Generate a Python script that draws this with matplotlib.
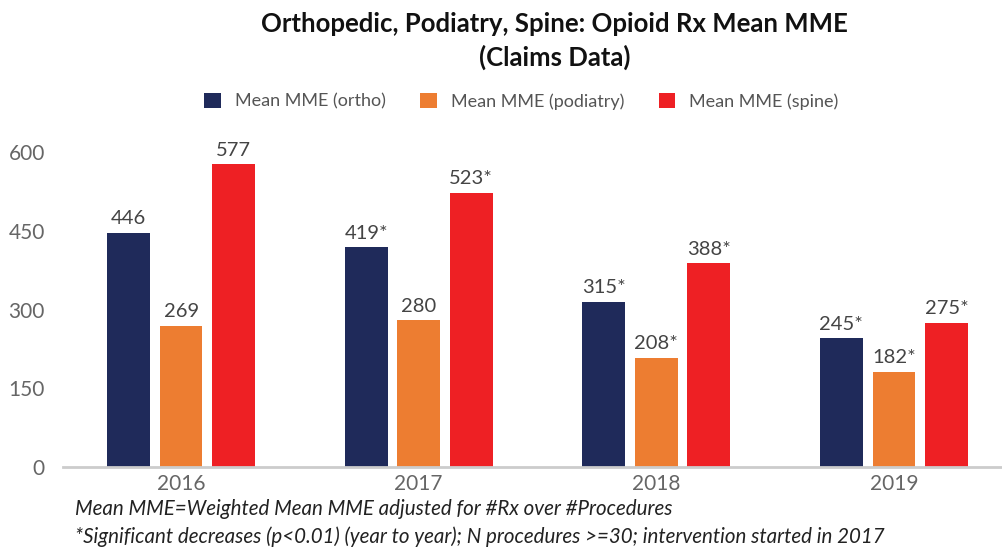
import numpy as np
import matplotlib.pyplot as plt

years = ['2016', '2017', '2018', '2019']
ortho = [446, 419, 315, 245]
podiatry = [269, 280, 208, 182]
spine = [577, 523, 388, 275]
ortho_labels = ['446', '419*', '315*', '245*']
podiatry_labels = ['269', '280', '208*', '182*']
spine_labels = ['577', '523*', '388*', '275*']

plt.rcParams['font.family'] = ['Lato', 'DejaVu Sans']

fig = plt.figure(figsize=(10.03, 5.48), dpi=100)
ax = fig.add_axes([0.0628, 0.1478, 0.9372, 0.6223])

x = np.arange(len(years))
w = 0.18
step = 0.221
series = [
    (ortho, ortho_labels, '#1f2a5a', 'Mean MME (ortho)'),
    (podiatry, podiatry_labels, '#ed7d31', 'Mean MME (podiatry)'),
    (spine, spine_labels, '#ee2024', 'Mean MME (spine)'),
]
for i, (vals, labs, col, name) in enumerate(series):
    bars = ax.bar(x + (i - 1) * step, vals, w, color=col, label=name)
    ax.bar_label(bars, labels=labs, padding=4, fontsize=14.5, color='#444444')

ax.set_xlim(-0.497, 3.459)
ax.set_ylim(0, 650)
ax.set_yticks([0, 150, 300, 450, 600])
ax.set_xticks(x)
ax.set_xticklabels(years)
ax.tick_params(axis='both', length=0, labelsize=15, labelcolor='#666666')
ax.tick_params(axis='y', pad=13)
ax.tick_params(axis='x', pad=5)
for s in ['top', 'right', 'left']:
    ax.spines[s].set_visible(False)
ax.spines['bottom'].set_color('#cccccc')
ax.spines['bottom'].set_linewidth(2)

fig.text(0.553, 0.978, 'Orthopedic, Podiatry, Spine: Opioid Rx Mean MME\n(Claims Data)',
         ha='center', va='top', fontsize=18.5, fontweight='bold', color='#111111',
         linespacing=1.4)
fig.legend(loc='center', bbox_to_anchor=(0.52, 0.815), ncol=3, frameon=False,
           fontsize=13, labelcolor='#555555', handlelength=0.9, handleheight=0.9,
           columnspacing=1.9, handletextpad=0.8)

fig.text(0.075, 0.072, 'Mean MME=Weighted Mean MME adjusted for #Rx over #Procedures',
         fontsize=14.8, style='italic', color='#222222', va='center')
fig.text(0.075, 0.020, '*Significant decreases (p<0.01) (year to year); N procedures >=30; intervention started in 2017',
         fontsize=14.8, style='italic', color='#222222', va='center')

fig.savefig('out.png', dpi=100)
